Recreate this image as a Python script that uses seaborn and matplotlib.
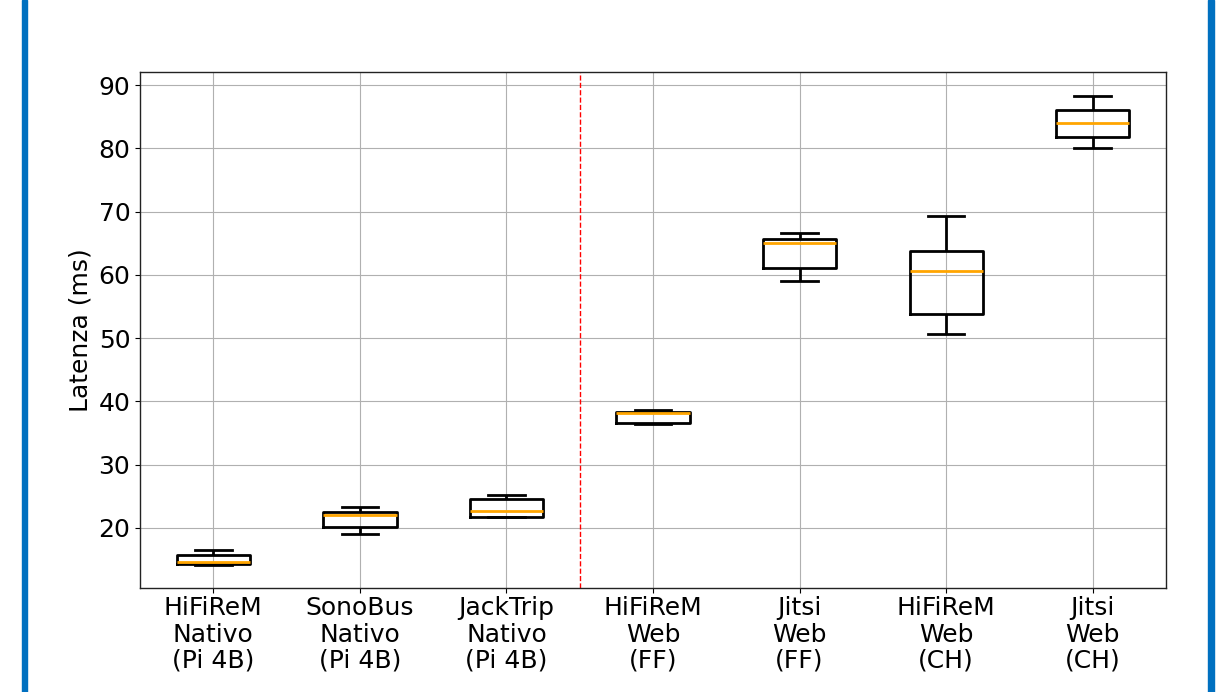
import pandas as pd
import numpy as np
import matplotlib
matplotlib.use("Agg")
import matplotlib.pyplot as plt
import seaborn as sns
from matplotlib.patches import Rectangle

# Five-number summaries (min, q1, median, q3, max), ms
categories = [
    "HiFiReM\nNativo\n(Pi 4B)",
    "SonoBus\nNativo\n(Pi 4B)",
    "JackTrip\nNativo\n(Pi 4B)",
    "HiFiReM\nWeb\n(FF)",
    "Jitsi\nWeb\n(FF)",
    "HiFiReM\nWeb\n(CH)",
    "Jitsi\nWeb\n(CH)",
]
hifirem_pi = [14.15, 14.3, 14.65, 15.75, 16.5]
sonobus_pi = [19.1, 20.2, 22.0, 22.45, 23.25]
jacktrip_pi = [21.65, 21.8, 22.75, 24.55, 25.2]
hifirem_ff = [36.45, 36.55, 38.2, 38.4, 38.6]
jitsi_ff = [59.05, 61.1, 65.05, 65.65, 66.7]
hifirem_ch = [50.7, 53.75, 60.65, 63.8, 69.3]
jitsi_ch = [80.15, 81.85, 84.1, 86.05, 88.25]

series = [hifirem_pi, sonobus_pi, jacktrip_pi, hifirem_ff, jitsi_ff, hifirem_ch, jitsi_ch]
df = pd.DataFrame({
    "config": np.repeat(categories, [len(s) for s in series]),
    "latency": np.concatenate(series),
})

plt.rcParams["font.family"] = ["DejaVu Sans"]

fig = plt.figure(figsize=(12.23, 6.92), dpi=100)
ax = fig.add_axes([0.1145, 0.1503, 0.8389, 0.7457])

sns.boxplot(
    data=df, x="config", y="latency", order=categories, ax=ax,
    width=0.5, fill=False, color="black", linewidth=2,
    medianprops={"color": "orange", "linewidth": 2},
    whiskerprops={"color": "black"}, capprops={"color": "black"},
    boxprops={"color": "black"}, showfliers=False, whis=1.5,
)

ax.axvline(2.5, color="red", linestyle="--", linewidth=1)
ax.set_xlim(-0.5, 6.5)
ax.set_ylim(10.5, 92.1)
ax.set_yticks([20, 30, 40, 50, 60, 70, 80, 90])
ax.grid(True, color="#b0b0b0", linewidth=0.8)
ax.set_axisbelow(True)
ax.set_xlabel("")
ax.set_ylabel("Latenza (ms)", fontsize=18)
ax.tick_params(labelsize=18)
ax.tick_params(axis="x", pad=2.5)
for lbl in ax.get_xticklabels():
    lbl.set_linespacing(1.12)
for s in ax.spines.values():
    s.set_color("#222222")
    s.set_linewidth(1)

# blue slide borders
fig.patches.append(Rectangle((22 / 1223, 0), 5 / 1223, 1, transform=fig.transFigure,
                             color="#0070C0", zorder=10))
fig.patches.append(Rectangle((1208 / 1223, 0), 6 / 1223, 1, transform=fig.transFigure,
                             color="#0070C0", zorder=10))

fig.savefig("out.png", dpi=100)
